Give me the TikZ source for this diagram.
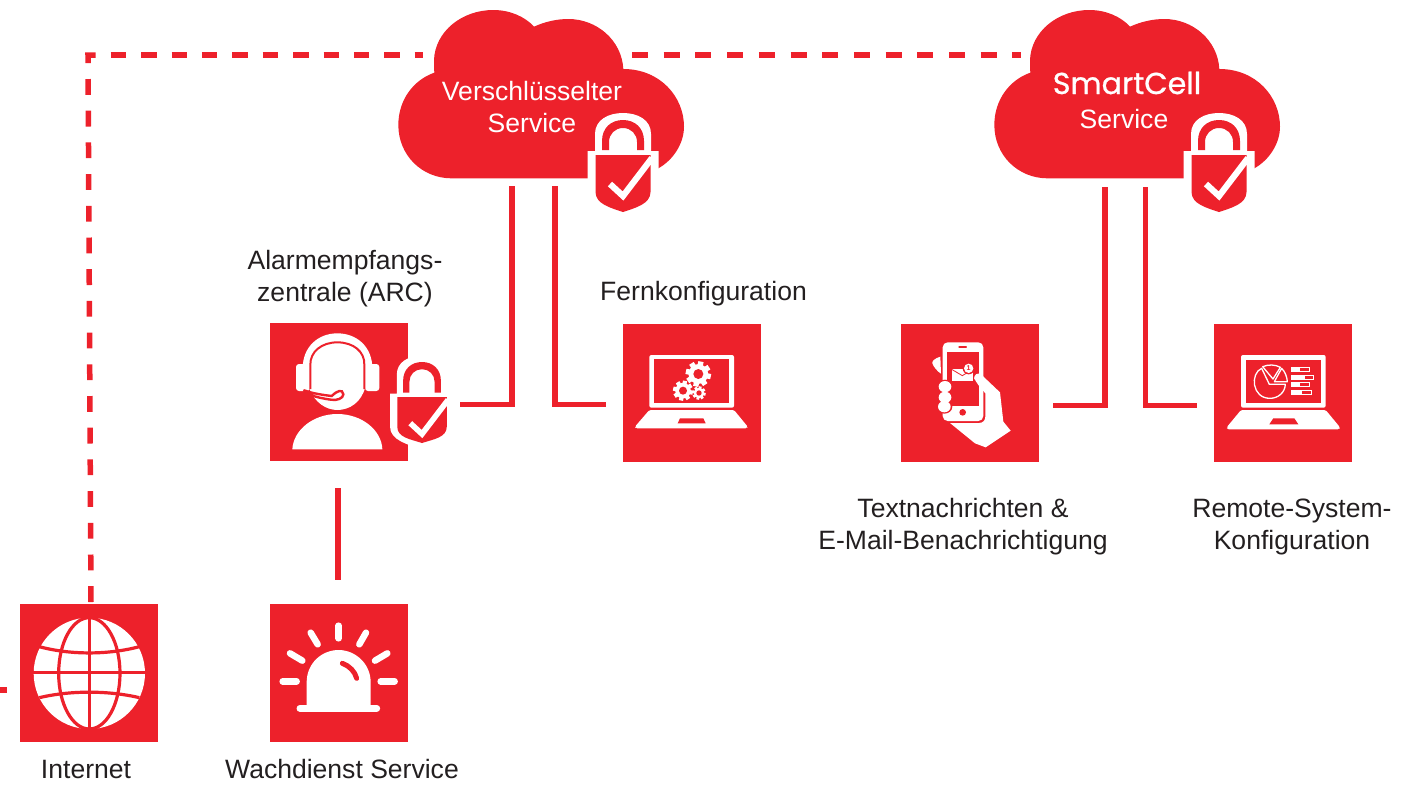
\documentclass[tikz,border=0pt]{standalone}
\usepackage{fontspec}
\setmainfont{Liberation Sans}
\newfontfamily\logofont[FakeBold=0.9]{Poppins}
\definecolor{brandred}{HTML}{ED212B}
\definecolor{txt}{HTML}{231F20}
\tikzset{
  sqbox/.style={fill=brandred,minimum size=138pt,inner sep=0pt,outer sep=0pt,anchor=center},
  conn/.style={draw=brandred,line width=5.5pt},
  dashconn/.style={draw=brandred,line width=5.5pt},
  lbl/.style={font=\fontsize{26.55}{32}\selectfont,text=txt,inner sep=0pt,align=center,anchor=base},
  wlbl/.style={lbl,text=white},
  wline/.style={draw=white,line cap=round,line join=round},
  zoomed/.style={shift={#1},scale=0.33333}
}
\newcommand\cloudshape[1]{%
\begin{scope}[shift={(#1,0)},zoomed={(380,0)}]
\fill[brandred] (215,535) .. controls (125,535) and (55,465) .. (55,375)
 .. controls (55,300) and (100,240) .. (163,218)
 .. controls (162,205) and (162,190) .. (162,180)
 .. controls (165,95) and (245,30) .. (340,30)
 .. controls (390,30) and (435,50) .. (462,80)
 .. controls (495,65) and (530,57) .. (565,57)
 .. controls (650,57) and (725,120) .. (730,207)
 .. controls (840,207) and (912,290) .. (912,380)
 .. controls (912,430) and (880,480) .. (835,505)
 -- (780,535) -- cycle;
\end{scope}}
% cx, top, scale, body top, tip, shoulder
\newcommand\lockicon[6]{%
\begin{scope}[shift={(#1,#2)},scale=#3]
\fill[white] (-28,#4-4) -- (-28,14) .. controls (-28,0) and (-15,-7) .. (0,-7)
 .. controls (15,-7) and (28,0) .. (28,14) -- (28,#4-4) -- (35.5,#4-4) -- (35.5,#6)
 .. controls (35.5,#6+15) and (15,#5+2) .. (0,#5+7)
 .. controls (-15,#5+2) and (-35.5,#6+15) .. (-35.5,#6) -- (-35.5,#4-4) -- cycle;
\fill[brandred] (-21,#4-5) -- (-21,21) .. controls (-21,8) and (-12,0) .. (0,0)
 .. controls (12,0) and (21,8) .. (21,21) -- (21,#4-5) -- (14,#4-5) -- (14,22)
 .. controls (14,14) and (8,8) .. (0,8) .. controls (-8,8) and (-14,14) .. (-14,22)
 -- (-14,#4-5) -- cycle;
\fill[brandred] (-27.5,#4) -- (27.5,#4) -- (27.5,#6)
 .. controls (27.5,#6+12) and (12,#5-4) .. (0,#5)
 .. controls (-12,#5-4) and (-27.5,#6+12) .. (-27.5,#6) -- cycle;
\draw[draw=white,line width=#3*6.2pt,miter limit=10] (-13,#4+29) -- (0,#4+41) -- (29,#4+3);
\end{scope}}
\newcommand\gearicon[4]{% x y router rhole
\foreach \a in {0,45,...,315}{\draw[draw=white,line width=#3*0.14pt] (#1,#2) ++(\a+12:#3*0.65) -- ++(\a+12:#3*0.35);}
\fill[white] (#1,#2) circle (#3*0.78);
\fill[brandred] (#1,#2) circle (#4);}
\begin{document}
\begin{tikzpicture}[x=1pt,y=-1pt]
\useasboundingbox (0,0) rectangle (1424,785);
% named ends of the connectors
\coordinate (inetTop) at (91,602);
\coordinate (corner) at (88,55);
\coordinate (cornerEnd) at (96,55);
\coordinate (topA) at (110.7,55);
\coordinate (topAEnd) at (423,55);
\coordinate (topB) at (632,55);
\coordinate (topBEnd) at (1021,55);
\coordinate (stubL) at (0,690);
\coordinate (stubR) at (7,690);
\coordinate (c1a) at (512,186);
\coordinate (c1b) at (555,186);
\coordinate (c2a) at (1105,187);
\coordinate (c2b) at (1145.5,187);
\coordinate (arcEnd) at (460,404.5);
\coordinate (fernEnd) at (606,404.5);
\coordinate (textEnd) at (1053,405.5);
\coordinate (remoteEnd) at (1197,405.5);
\coordinate (arcLow) at (338,488);
\coordinate (wachUp) at (338,580);
% connectors
\draw[dashconn,dash pattern=on 15.8pt off 15.9pt] (inetTop) -- (corner) -- (cornerEnd);
\draw[dashconn,dash pattern=on 15.4pt off 15pt] (topA) -- (topAEnd);
\draw[dashconn,dash pattern=on 16pt off 15.7pt] (topB) -- (topBEnd);
\draw[conn] (stubL) -- (stubR);
\draw[conn] (c1a) |- (arcEnd);
\draw[conn] (c1b) |- (fernEnd);
\draw[conn] (c2a) |- (textEnd);
\draw[conn] (c2b) |- (remoteEnd);
\draw[conn,line width=6pt] (arcLow) -- (wachUp);
% clouds
\cloudshape{0}
\cloudshape{596}
\node[wlbl] (lblVerschl) at (532,132) {Verschlüsselter\\Service};
\node[wlbl,font=\logofont\fontsize{30.2}{32}\selectfont] (lblSmart) at (1127,94) {SmartCell};
\node[wlbl] (lblService) at (1124,128) {Service};
\lockicon{623}{120}{1}{35}{92}{72}
\lockicon{1219}{120}{1}{35}{92}{72}
% squares
\node[sqbox] (arc) at (339,392) {};
\node[sqbox] (fern) at (692,393) {};
\node[sqbox] (textn) at (970,393) {};
\node[sqbox] (remote) at (1283,393) {};
\node[sqbox] (inet) at (89,673) {};
\node[sqbox] (wach) at (339,673) {};
% headset icon
\begin{scope}[zoomed={(260,315)}]
\fill[white] (128,160) .. controls (128,95) and (175,55) .. (232,55) .. controls (290,55) and (337,95) .. (337,160) -- (316,215) .. controls (305,262) and (268,285) .. (232,285) .. controls (198,285) and (165,262) .. (150,225) -- cycle;
\fill[white,rounded corners=3pt] (108,147) rectangle (150,228);
\fill[white,rounded corners=3pt] (315,147) rectangle (358,228);
\draw[draw=brandred,line width=2pt,line join=round] (151,222) -- (151,150) .. controls (150,110) and (185,82) .. (232,82) .. controls (280,82) and (315,110) .. (313,150) -- (313,222);
\draw[draw=brandred,line width=2.4pt,line cap=round] (132,226) .. controls (160,236) and (190,240) .. (215,243) .. controls (230,228) and (248,220) .. (250,238) .. controls (250,250) and (230,258) .. (212,254) .. controls (185,250) and (160,245) .. (132,232);
\fill[white] (97,403) .. controls (100,345) and (160,297) .. (232,297) .. controls (305,297) and (365,345) .. (367,403) -- cycle;
\end{scope}
\lockicon{422}{362}{0.9}{39}{90}{72}
% laptop with gears
\begin{scope}[zoomed={(615,315)}]
\fill[white,rounded corners=2pt] (103,120) rectangle (357,278);
\fill[brandred] (118,133) rectangle (343,263);
\fill[white,rounded corners=1.5pt] (103,285) -- (357,285) -- (398,335) -- (396,340) -- (62,340) -- (60,335) -- cycle;
\fill[brandred] (195,310) -- (265,310) -- (272,325) -- (188,325) -- cycle;
\gearicon{250}{177}{38}{15}
\gearicon{204}{227}{30}{12}
\gearicon{252}{234}{20}{8}
\end{scope}
% phone in hand
\begin{scope}[zoomed={(895,315)}]
\fill[white,rounded corners=5pt] (143,82) rectangle (265,318);
\fill[brandred] (155,110) rectangle (253,272);
\draw[draw=brandred,line width=1.2pt,line cap=round] (192,96) -- (214,96);
\fill[brandred] (203,292) circle (10);
\fill[white] (170,162) rectangle (233,198);
\draw[draw=brandred,line width=0.8pt] (170,163) -- (202,182) -- (233,163);
\fill[brandred] (221,160) circle (18);
\fill[white] (221,160) circle (14);
\node[font=\bfseries\fontsize{7}{7}\selectfont,text=brandred,inner sep=0pt] (badge) at (221,160) {1};
\fill[white] (136,125) .. controls (120,130) and (110,138) .. (112,145) .. controls (115,155) and (128,170) .. (138,176) -- cycle;
\fill[brandred] (150,215) ellipse (24 and 21);
\fill[brandred] (150,247) ellipse (24 and 21);
\fill[brandred] (148,275) ellipse (24 and 21);
\fill[white] (150,215) ellipse (19 and 17);
\fill[white] (150,247) ellipse (19 and 17);
\fill[white] (148,275) ellipse (19 and 17);
\fill[white,line join=round] (237,190) .. controls (238,178) and (248,172) .. (258,178) -- (315,232) -- (325,320) -- (347,347) -- (272,397) -- (240,385) -- (165,324) -- (252,324) .. controls (264,324) and (271,316) .. (271,305) -- (271,235) -- (250,210) -- cycle;
\end{scope}
% laptop with chart
\begin{scope}[zoomed={(1205,315)}]
\fill[white,rounded corners=2pt] (108,120) rectangle (362,278);
\fill[brandred] (123,135) rectangle (348,263);
\fill[white,rounded corners=1.5pt] (108,285) -- (362,285) -- (405,337) -- (403,343) -- (67,343) -- (65,337) -- cycle;
\fill[brandred] (205,310) -- (268,310) -- (280,328) -- (193,328) -- cycle;
\draw[draw=white,line width=1.3pt,line join=round] (170,160) .. controls (135,175) and (140,250) .. (195,250) .. controls (220,250) and (240,232) .. (241,208) -- (193,208) -- cycle;
\draw[draw=white,line width=1.3pt,line join=round] (173,155) .. controls (190,148) and (210,148) .. (226,157) -- (204,192) -- cycle;
\draw[draw=white,line width=1.3pt,line join=round] (230,160) .. controls (240,170) and (246,185) .. (247,200) -- (208,200) -- cycle;
\foreach \ya/\xb/\xm in {158/312/285,181/325/300,203/312/285,225/320/292}{
  \draw[draw=white,line width=1pt] (258,\ya) rectangle (\xb,\ya+12);
  \fill[white] (258,\ya) rectangle (\xm,\ya+12);
}
\end{scope}
% globe
\begin{scope}[zoomed={(0,595)}]
\fill[white] (268,235) circle (167);
\draw[draw=brandred,line width=3.2pt] (268,60) -- (268,410);
\draw[draw=brandred,line width=3.2pt] (95,233) -- (440,233);
\draw[draw=brandred,line width=3.2pt] (268,235) ellipse (92 and 167);
\draw[draw=brandred,line width=3.2pt] (118,155) .. controls (210,180) and (325,180) .. (418,155);
\draw[draw=brandred,line width=3.2pt] (118,308) .. controls (210,286) and (325,286) .. (418,308);
\end{scope}
% beacon
\begin{scope}[zoomed={(260,595)}]
\foreach \xa/\ya/\xb/\yb in {236/92/236/130,152/113/173/148,318/113/298/148,90/175/127/197,382/175/345/197,68/259/110/259,362/259/404/259}{
  \draw[wline,line width=6.5pt] (\xa,\ya) -- (\xb,\yb);
}
\fill[white] (140,335) -- (140,262) .. controls (140,205) and (185,165) .. (236,165) .. controls (285,165) and (332,205) .. (332,262) -- (332,335) -- cycle;
\draw[wline,line width=7pt] (120,340) -- (350,340);
\draw[draw=brandred,line width=5pt,line cap=round] (247,205) .. controls (268,212) and (285,230) .. (290,250);
\end{scope}
% labels
\node[lbl] (lblArc) at (345,301) {Alarmempfangs-\\zentrale (ARC)};
\node[lbl] (lblFern) at (703.5,300) {Fernkonfiguration};
\node[lbl] (lblText) at (963,549) {Textnachrichten \&\\E-Mail-Benachrichtigung};
\node[lbl] (lblRemote) at (1292,549) {Remote-System-\\Konfiguration};
\node[lbl] (lblInet) at (86,778) {Internet};
\node[lbl] (lblWach) at (342,778) {Wachdienst Service};
\end{tikzpicture}
\end{document}
